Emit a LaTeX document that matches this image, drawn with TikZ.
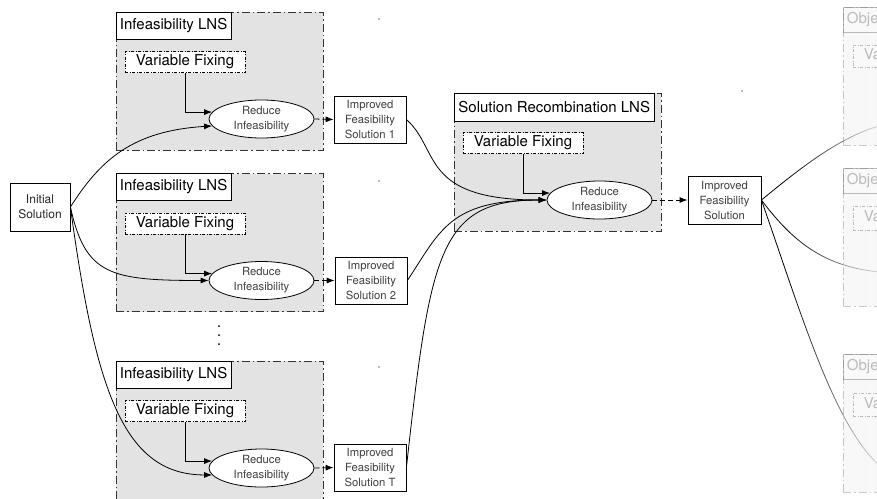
\documentclass[tikz,border=0pt]{standalone}
\usepackage{fontspec}
\setmainfont{TeX Gyre Heros}
\usetikzlibrary{arrows.meta,shapes.geometric,fadings}
\newcommand{\bigfont}{\fontsize{15}{18}\selectfont}
\newcommand{\smallfont}{\fontsize{11.3}{15}\selectfont}

\tikzfading[name=fade to white, left color=transparent!100, right color=transparent!0]

\begin{document}
\begin{tikzpicture}[x=1pt, y=-1pt, >={Latex[length=8pt,width=6pt]},
	lns/.style={draw=black!80, fill=black!11, line width=0.8pt, dash pattern=on 8pt off 3pt on 1.5pt off 3pt, minimum width=207pt, minimum height=138pt, inner sep=0pt},
	lnstitle/.style={draw, fill=white, line width=0.7pt, anchor=north west, inner xsep=4pt, inner ysep=0pt, minimum height=27pt, font=\bigfont},
	fixing/.style={draw, fill=white, line width=0.7pt, dash pattern=on 3pt off 1.5pt on 1pt off 1.5pt, minimum width=120pt, minimum height=21pt, inner sep=0pt, font=\bigfont},
	reduce/.style={draw, ellipse, fill=white, line width=0.8pt, minimum width=105pt, minimum height=38pt, inner sep=0pt, align=center, text=black!75, font=\smallfont},
	solbox/.style={draw, fill=white, line width=0.8pt, minimum width=72pt, minimum height=47pt, inner sep=0pt, align=center, text=black!75, font=\smallfont},
	link/.style={->, line width=0.8pt},
	handoff/.style={->, line width=0.8pt, dash pattern=on 5pt off 3pt},
	faded/.style={opacity=0.25}]
	\path [use as bounding box] (0,0) rectangle (877,498);
	\clip (0,0) rectangle (877,498);
	%
	\node (init) at (40,207) [solbox, minimum width=60pt, minimum height=48pt, text=black!85, font=\fontsize{12}{15}\selectfont] {Initial\\Solution};
	%
	% parallel infeasibility runs
	\node (g1) at (219.5,81) [lns] {};
	\node (g2) at (219.5,242.5) [lns] {};
	\node (g3) at (219.5,430) [lns] {};
	\node (t1) at (g1.north west) [lnstitle] {Infeasibility LNS};
	\node (t2) at (g2.north west) [lnstitle] {Infeasibility LNS};
	\node (t3) at (g3.north west) [lnstitle] {Infeasibility LNS};
	\node (f1) at (185,62) [fixing] {Variable Fixing};
	\node (f2) at (185,223.5) [fixing] {Variable Fixing};
	\node (f3) at (185,411) [fixing] {Variable Fixing};
	\node (r1) at (261.5,119) [reduce] {Reduce\\Infeasibility};
	\node (r2) at (261.5,280.5) [reduce] {Reduce\\Infeasibility};
	\node (r3) at (261.5,468) [reduce] {Reduce\\Infeasibility};
	\node (s1) at (370,119.5) [solbox] {Improved\\Feasibility\\Solution 1};
	\node (s2) at (371,280.5) [solbox] {Improved\\Feasibility\\Solution 2};
	\node (sT) at (370,467.5) [solbox] {Improved\\Feasibility\\Solution T};
	\foreach \y in {326,335,344}
		\fill (219,\y) circle (1pt);
	%
	% recombination of the improved solutions
	\node (g4) at (557.5,162) [lns] {};
	\node (t4) at (g4.north west) [lnstitle, minimum height=28pt, inner xsep=4.5pt] {Solution Recombination LNS};
	\node (f4) at (523,143) [fixing] {Variable Fixing};
	\node (r4) at (599.5,200) [reduce] {Reduce\\Infeasibility};
	\node (imp) at (724.5,200) [solbox, minimum width=73pt, minimum height=48pt] {Improved\\Feasibility\\Solution};
	%
	\fill [black!55] (379,19) circle (0.9pt);
	\fill [black!55] (379,181) circle (0.9pt);
	\fill [black!55] (379,367) circle (0.9pt);
	\fill [black!55] (742,91) circle (0.9pt);
	%
	\draw [link] (init.east) .. controls +(30,-47) and +(-80,5) .. (r1.188);
	\draw [link] (init.east) .. controls +(15,68) and +(-99,0) .. (r2.west);
	\draw [link] (init.east) .. controls +(25,183) and +(-89,0) .. (r3.188);
	\draw [link] (f1.south) |- (r1.172);
	\draw [link] (f2.south) |- (r2.172);
	\draw [link] (f3.south) |- (r3.172);
	\draw [handoff] (r1.east) -- (s1.west);
	\draw [handoff] (r2.east) -- (s2.west);
	\draw [handoff] (r3.east) -- (sT.west);
	\draw [link] (s1.east) .. controls +(34,30) and +(-127,0) .. (r4.west);
	\draw [link] (s2.east) .. controls +(33,-50) and +(-97,0) .. (r4.west);
	\draw [link] (sT.east) .. controls +(24,-217) and +(-107,0) .. (r4.west);
	\draw [link] (f4.south) |- (r4.172);
	\draw [handoff] (r4.east) -- (imp.west);
	%
	% objective runs, fading out to the right
	\coordinate (oa) at (925,120);
	\coordinate (ob) at (910,273);
	\coordinate (oc) at (925,482);
	\draw [link] (imp.east) .. controls +(49,-40) and +(-65,0) .. (oa);
	\draw [link] (imp.east) .. controls +(34,45) and +(-80,0) .. (ob);
	\draw [link] (imp.east) .. controls +(49,140) and +(-75,0) .. (oc);
	\fill [white, fill opacity=0.8, path fading=fade to white] (785,0) rectangle (877,498);
	\node (g5) at (946.5,76) [lns, faded] {};
	\node (g6) at (946.5,237) [lns, faded] {};
	\node (g7) at (946.5,423) [lns, faded] {};
	\node (t5) at (g5.north west) [lnstitle, faded, minimum height=25pt] {Objective LNS};
	\node (t6) at (g6.north west) [lnstitle, faded, minimum height=25pt] {Objective LNS};
	\node (t7) at (g7.north west) [lnstitle, faded, minimum height=25pt] {Objective LNS};
	\node (f5) at (913,56) [fixing, faded, minimum height=22pt] {Variable Fixing};
	\node (f6) at (913,218) [fixing, faded, minimum height=24pt] {Variable Fixing};
	\node (f7) at (913,404.5) [fixing, faded, minimum height=23pt] {Variable Fixing};
\end{tikzpicture}
\end{document}
